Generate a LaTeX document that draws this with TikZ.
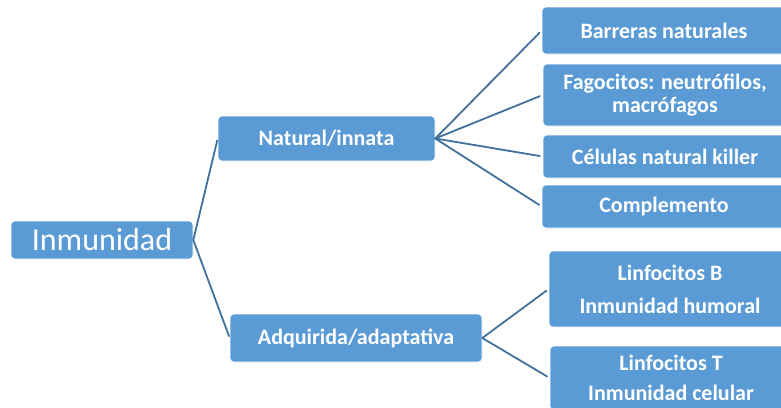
\documentclass[tikz,border=0pt]{standalone}
\usepackage{fontspec}
\setmainfont{Carlito}
\definecolor{cajaazul}{HTML}{5B9BD5}
\definecolor{enlaceazul}{HTML}{41719C}
\begin{document}
\begin{tikzpicture}[x=1pt, y=-1pt, line join=round, line cap=round,
		caja/.style={fill=cajaazul, draw=white, line width=0.6pt, rounded corners=4pt, text=white, inner sep=0pt, align=center, font=\fontsize{22}{23}\selectfont\bfseries},
		enlace/.style={draw=enlaceazul, line width=1.8pt}]
				\useasboundingbox (0,0) rectangle (781,407);
				% raiz y ramas
				\node[caja, minimum width=182pt, minimum height=38pt, font=\fontsize{32}{34}\selectfont] (inm) at (102,240) {Inmunidad};
				\node[caja, minimum width=217pt, minimum height=45pt] (nat) at (326.5,138.5) {Natural/innata};
				\node[caja, minimum width=252pt, minimum height=48pt] (adq) at (356,338) {Adquirida/adaptativa};
				% hojas
				\node[caja, minimum width=244pt, minimum height=47pt] (bar) at (664,30.5) {Barreras naturales};
				\node[caja, minimum width=244pt, minimum height=62pt] (fag) at (665,95) {Fagocitos: neutr\'ofilos,\\ macr\'ofagos};
				\node[caja, minimum width=244pt, minimum height=43pt] (cel) at (665,156.5) {C\'elulas natural killer};
				\node[caja, minimum width=244pt, minimum height=43pt] (com) at (664,206.5) {Complemento};
				\node[caja, minimum width=242pt, minimum height=76pt] (lb) at (670,289) {Linfocitos B\\[10pt] Inmunidad humoral};
				\node[caja, minimum width=242pt, minimum height=64pt] (lt) at (671,378) {Linfocitos T\\[7pt] Inmunidad celular};
				% enlaces
				\draw[enlace, shorten >=2pt] (inm.east)--(nat.west);
				\draw[enlace, shorten >=2pt] (inm.east)--(adq.west);
				\foreach \hoja in {bar,fag,cel,com}\draw[enlace, shorten >=3pt] (nat.east)--(\hoja.west);
				\foreach \hoja in {lb,lt}\draw[enlace, shorten >=3pt] (adq.east)--(\hoja.west);
		\end{tikzpicture}
\end{document}
